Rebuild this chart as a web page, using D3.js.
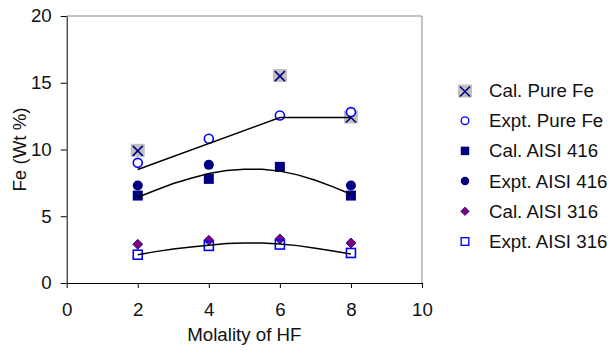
<!DOCTYPE html>
<html>
<head>
<meta charset="utf-8">
<script src="https://cdn.jsdelivr.net/npm/d3@7"></script>
<style>
  body { margin: 0; background: #fff; }
  svg { font-family: "Liberation Sans", Arial, sans-serif; }
</style>
</head>
<body>
<svg id="drawing_region"></svg>
<script>
// data
const molality   = [2, 4, 6, 8];
const calPureFe  = [9.9, null, 15.5, 12.4];
const exptPureFe = [9.0, 10.8, 12.55, 12.8];
const cal416     = [6.55, 7.8, 8.7, 6.55];
const expt416    = [7.3, 8.85, null, 7.3];
const cal316     = [2.9, 3.2, 3.3, 3.0];
const expt316    = [2.12, 2.78, 2.88, 2.25];

// fitted lines
const pureFeLineX = [2, 6, 8];
const pureFeLineY = [8.5, 12.4, 12.4];
const fitX   = [2, 2.5, 3, 3.5, 4, 4.5, 5, 5.5, 6, 6.5, 7, 7.5, 8];
const fit416 = [6.42, 6.95, 7.45, 7.85, 8.2, 8.42, 8.52, 8.52, 8.38, 8.1, 7.7, 7.2, 6.65];
const fit316 = [2.12, 2.35, 2.55, 2.7, 2.82, 2.95, 3.0, 3.0, 2.93, 2.8, 2.6, 2.4, 2.18];

const xTicks = [0, 2, 4, 6, 8, 10];
const yTicks = [0, 5, 10, 15, 20];

const seriesNames = ['Cal. Pure Fe', 'Expt. Pure Fe', 'Cal. AISI 416',
                     'Expt. AISI 416', 'Cal. AISI 316', 'Expt. AISI 316'];

const config = {
    width: 611,
    height: 351,
    margin: {top: 16, right: 189, bottom: 68, left: 66.7}
};
const fontSize = '18.7px';

const svg = d3.select('#drawing_region')
    .attr('width', config.width)
    .attr('height', config.height);

const inner_width = config.width - config.margin.left - config.margin.right;
const inner_height = config.height - config.margin.top - config.margin.bottom;

const chart = svg.append('g')
    .attr('transform', `translate(${config.margin.left}, ${config.margin.top})`);

const xscale = d3.scaleLinear().domain([0, 10]).range([0, inner_width]);
const yscale = d3.scaleLinear().domain([0, 20]).range([inner_height, 0]);

// grey frame on top / right
chart.append('path')
    .attr('d', `M0,0H${inner_width}V${inner_height}`)
    .attr('fill', 'none')
    .attr('stroke', '#888')
    .attr('stroke-width', 1);

const xaxis = d3.axisBottom(xscale).tickValues(xTicks).tickSize(5).tickPadding(15).tickSizeOuter(0);
const yaxis = d3.axisLeft(yscale).tickValues(yTicks).tickSize(6).tickPadding(9).tickSizeOuter(0);

const xaxis_group = chart.append('g')
    .attr('transform', `translate(0, ${inner_height})`)
    .call(xaxis);
const yaxis_group = chart.append('g').call(yaxis);

[xaxis_group, yaxis_group].forEach(g => {
    g.selectAll('text').attr('font-size', fontSize).attr('fill', '#111')
        .attr('font-family', '"Liberation Sans", Arial, sans-serif');
    g.selectAll('line, path').attr('stroke', '#000');
});

// axis titles
chart.append('text')
    .attr('x', inner_width / 2)
    .attr('y', inner_height + 58)
    .attr('text-anchor', 'middle')
    .attr('font-size', fontSize)
    .attr('fill', '#111')
    .text('Molality of HF');

chart.append('text')
    .attr('transform', `translate(-41, ${inner_height / 2}) rotate(-90)`)
    .attr('text-anchor', 'middle')
    .attr('font-size', fontSize)
    .attr('fill', '#111')
    .text('Fe (Wt %)');

// marker painters
const markers = [
    g => { // Cal. Pure Fe: grey box with navy X
        g.append('rect').attr('x', -7).attr('y', -7).attr('width', 14).attr('height', 13).attr('fill', '#c0c0c0');
        g.append('path').attr('d', 'M-5,-5L5,5M-5,5L5,-5').attr('stroke', '#000080').attr('stroke-width', 1.6).attr('fill', 'none');
    },
    g => { // Expt. Pure Fe: open blue circle
        g.append('circle').attr('r', 4.5).attr('fill', '#fff').attr('stroke', '#0000ff').attr('stroke-width', 1.6);
    },
    g => { // Cal. AISI 416: navy square
        g.append('rect').attr('x', -5).attr('y', -5).attr('width', 10).attr('height', 10).attr('fill', '#000080');
    },
    g => { // Expt. AISI 416: navy circle
        g.append('circle').attr('r', 5).attr('fill', '#000080');
    },
    g => { // Cal. AISI 316: purple diamond
        g.append('path').attr('d', 'M0,-5L5,0L0,5L-5,0Z').attr('fill', '#800080').attr('stroke', '#000080').attr('stroke-width', 0.8);
    },
    g => { // Expt. AISI 316: open blue square
        g.append('rect').attr('x', -4.5).attr('y', -4.5).attr('width', 9).attr('height', 9).attr('fill', 'none').attr('stroke', '#0000ff').attr('stroke-width', 1.6);
    }
];

const allSeries = [calPureFe, exptPureFe, cal416, expt416, cal316, expt316];

allSeries.forEach((vals, i) => {
    const pts = molality.map((x, j) => ({x: x, y: vals[j]})).filter(d => d.y != null);
    chart.append('g').selectAll('g')
        .data(pts)
        .join('g')
        .attr('transform', d => `translate(${xscale(d.x)}, ${yscale(d.y)})`)
        .each(function () { markers[i](d3.select(this)); });
});

// fitted lines
const line = d3.line().x(d => xscale(d[0])).y(d => yscale(d[1]));
const fits = [
    d3.zip(pureFeLineX, pureFeLineY),
    d3.zip(fitX, fit416),
    d3.zip(fitX, fit316)
];
chart.selectAll('.fit')
    .data(fits)
    .join('path')
    .attr('class', 'fit')
    .attr('d', line)
    .attr('fill', 'none')
    .attr('stroke', '#000')
    .attr('stroke-width', 1.5);

// legend
const legend = svg.append('g').attr('transform', 'translate(465, 90.5)');
seriesNames.forEach((name, i) => {
    const row = legend.append('g').attr('transform', `translate(0, ${i * 30.2})`);
    markers[i](row.append('g').attr('transform', i === 0 ? 'translate(0,1)' : 'scale(0.85)'));
    row.append('text')
        .attr('x', 24)
        .attr('y', 0)
        .attr('dy', '0.35em')
        .attr('font-size', fontSize)
        .attr('fill', '#111')
        .text(name);
});
</script>
</body>
</html>
